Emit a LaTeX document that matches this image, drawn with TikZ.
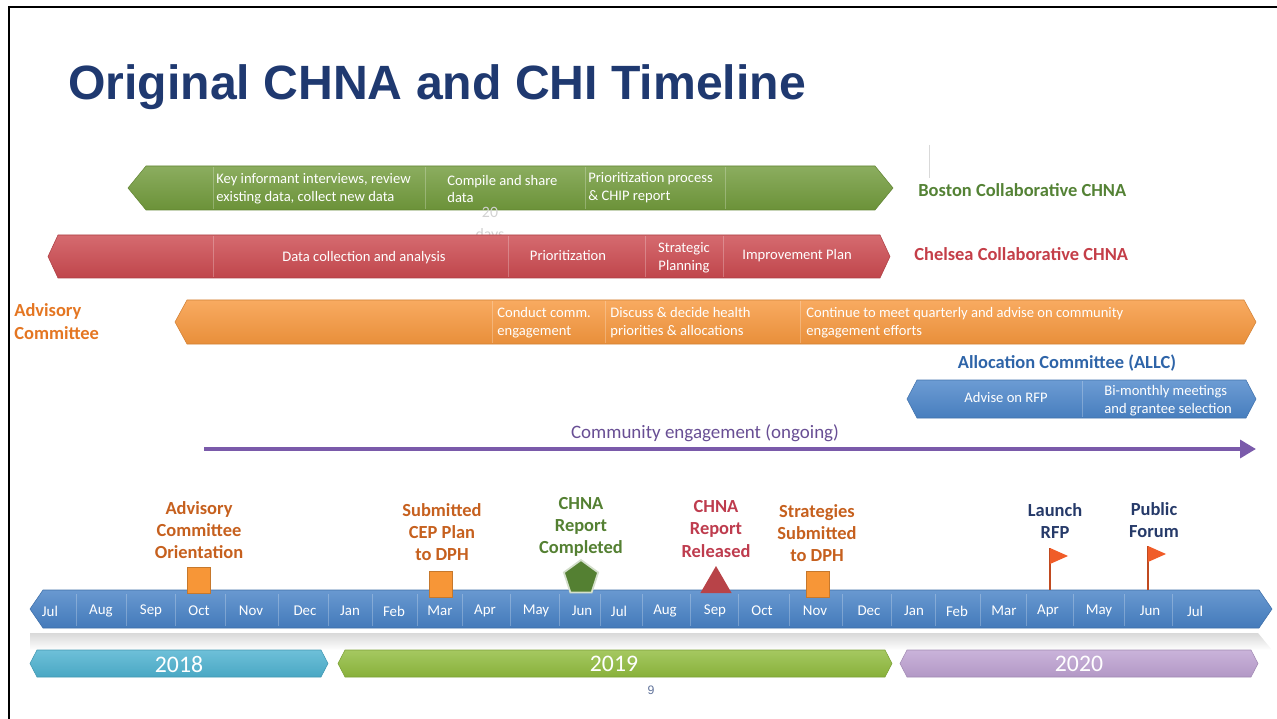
\documentclass[tikz,border=0pt]{standalone}
\usepackage{fontspec}
\setmainfont{Carlito}
\newfontfamily\titlefont{Liberation Sans}
\usetikzlibrary{shapes.geometric,arrows.meta}

\definecolor{titleblue}{RGB}{31,57,112}
\definecolor{bgreen}{RGB}{114,155,60}
\definecolor{bostontext}{RGB}{84,130,53}
\definecolor{cred}{RGB}{204,74,80}
\definecolor{chelseatext}{RGB}{196,62,72}
\definecolor{aorange}{RGB}{247,152,62}
\definecolor{advtext}{RGB}{228,118,34}
\definecolor{allcblue}{RGB}{76,134,202}
\definecolor{allctext}{RGB}{46,100,168}
\definecolor{purp}{RGB}{122,90,170}
\definecolor{purptext}{RGB}{104,78,148}
\definecolor{msorange}{RGB}{198,96,30}
\definecolor{sqorange}{RGB}{247,150,55}
\definecolor{msgreen}{RGB}{84,128,50}
\definecolor{msred}{RGB}{190,60,78}
\definecolor{msblue}{RGB}{38,58,105}
\definecolor{flagred}{RGB}{240,92,40}
\definecolor{tlblue}{RGB}{72,130,198}
\definecolor{y2018}{RGB}{78,178,208}
\definecolor{y2019}{RGB}{145,188,62}
\definecolor{y2020}{RGB}{190,162,210}

\tikzstyle{bartext} = [text=white, font=\fontsize{8.3}{10.2}\selectfont, align=left, anchor=west, inner sep=0pt]
\tikzstyle{barcenter} = [text=white, font=\fontsize{8.3}{10.2}\selectfont, align=center, inner sep=0pt]
\tikzstyle{barlabel} = [font=\bfseries\fontsize{10.5}{13}\selectfont, align=left, anchor=west, inner sep=0pt]
\tikzstyle{milestone} = [font=\bfseries\fontsize{10.5}{12.6}\selectfont, align=center, inner sep=0pt]
\tikzstyle{month} = [text=white, font=\fontsize{8.5}{10}\selectfont, inner sep=0pt]
\tikzstyle{year} = [text=white, font=\fontsize{13.5}{15}\selectfont, inner sep=0pt]
\tikzstyle{divider} = [draw=white, opacity=0.25, line width=0.5pt]
\tikzstyle{square} = [rectangle, minimum width=0.46cm, minimum height=0.52cm, inner sep=0pt, fill=sqorange, draw=sqorange!80!black, line width=0.3pt]
\tikzstyle{ongoing} = [draw=purp, line width=2.8pt, -{Triangle[length=9pt,width=10pt]}]
\tikzstyle{pole} = [draw=flagred!80!black, line width=0.8pt]

% hexagonal banner: x1, x2, ytop, ybottom, tip, colour
\newcommand{\banner}[6]{%
  \path[top color=#6!82!white, bottom color=#6!94!black, draw=#6!85!black, line width=0.3pt]
    (#1,{(#3+#4)/2}) -- (#1+#5,#3) -- (#2-#5,#3) -- (#2,{(#3+#4)/2})
    -- (#2-#5,#4) -- (#1+#5,#4) -- cycle;}

\begin{document}
\begin{tikzpicture}[x=0.02cm, y=-0.02cm]
        \useasboundingbox (0,0) rectangle (1277,719);
        \draw[line width=1.7pt] (9,719) -- (9,7) -- (1277,7);

        \node (title) [anchor=west, inner sep=0pt, text=titleblue, font=\titlefont\bfseries\fontsize{27.4}{30}\selectfont] at (68,87) {Original CHNA and CHI Timeline};

        % Boston
        \draw[gray!30, line width=0.4pt] (929,145) -- (929,178);
        \banner{128}{893}{166}{210}{18}{bgreen}
        \foreach \x in {213,425,585,725} \draw[divider] (\x,167) -- (\x,209);
        \node (keyinf) [bartext] at (216,189) {Key informant interviews, review\\existing data, collect new data};
        \node (compile) [bartext] at (447,189) {Compile and share\\data};
        \node (prioproc) [bartext] at (588,188) {Prioritization process\\\& CHIP report};
        \node (boston) [barlabel, text=bostontext] at (918,190) {Boston Collaborative CHNA};
        \node (days) [barcenter, text=gray!35, font=\fontsize{9}{12.5}\selectfont] at (490,225) {20\\days};

        % Chelsea
        \banner{48}{890}{235}{278}{10}{cred}
        \foreach \x in {213,508,645,723} \draw[divider] (\x,236) -- (\x,277);
        \node (datacoll) [barcenter] at (364,258) {Data collection and analysis};
        \node (prio) [barcenter] at (568,256) {Prioritization};
        \node (strat) [barcenter] at (684,258) {Strategic\\Planning};
        \node (improve) [barcenter] at (797,256) {Improvement Plan};
        \node (chelsea) [barlabel, text=chelseatext] at (914,254) {Chelsea Collaborative CHNA};

        % Advisory Committee
        \banner{175}{1256}{300}{344}{12}{aorange}
        \foreach \x in {492,605,800} \draw[divider] (\x,301) -- (\x,343);
        \node (conduct) [bartext] at (497,323) {Conduct comm.\\engagement};
        \node (discuss) [bartext] at (610,323) {Discuss \& decide health\\priorities \& allocations};
        \node (continue) [bartext] at (806,323) {Continue to meet quarterly and advise on community\\engagement efforts};
        \node (advisory) [barlabel, text=advtext] at (14,322) {Advisory\\Committee};

        % Allocation Committee
        \node (allc) [barlabel, anchor=center, text=allctext] at (1067,363) {Allocation Committee (ALLC)};
        \banner{907}{1256}{380}{418}{10}{allcblue}
        \draw[divider] (1082,381) -- (1082,417);
        \node (rfp) [barcenter] at (1006,397) {Advise on RFP};
        \node (bimonthly) [bartext] at (1104,401) {Bi-monthly meetings\\and grantee selection};

        % Community engagement
        \node (community) [font=\fontsize{10.8}{13}\selectfont, text=purptext, inner sep=0pt] at (705,433) {Community engagement (ongoing)};
        \coordinate (ceL) at (204,449);
        \coordinate (ceR) at (1256,449);
        \draw[ongoing] (ceL) -- (ceR);

        % timeline
        \banner{30}{1272}{590}{628}{13}{tlblue}
        \path[top color=gray!30, bottom color=white] (30,633) -- (1258,633) -- (1272,650) -- (30,650) -- cycle;
        \foreach \x in {76,126,175,225,278,328,372,417,462,510,559,600,642,690,738,789,842,891,935,980,1026,1073,1124,1172}
            \draw[divider] (\x,594) -- (\x,626);
        \foreach \m/\x [count=\i] in {Jul/50,Aug/101,Sep/151,Oct/199,Nov/251,Dec/305,Jan/350,Feb/394,Mar/440,Apr/485,May/536,Jun/582,Jul/619,Aug/665,Sep/715,Oct/762,Nov/815,Dec/869,Jan/914,Feb/957,Mar/1004,Apr/1048,May/1099,Jun/1150,Jul/1195}
            \node (mon\i) [month] at (\x,611) {\m};

        % years
        \banner{30}{328}{650}{677}{7}{y2018}
        \banner{338}{892}{650}{677}{7}{y2019}
        \banner{900}{1258}{650}{677}{7}{y2020}
        \node (yr2018) [year] at (179,664) {2018};
        \node (yr2019) [year] at (614,664) {2019};
        \node (yr2020) [year] at (1079,664) {2020};

        % milestones
        \node (orient) [milestone, text=msorange] at (199,530) {Advisory\\Committee\\Orientation};
        \node (orientmk) [square] at (199,580) {};
        \node (cep) [milestone, text=msorange] at (442,532) {Submitted\\CEP Plan\\to DPH};
        \node (cepmk) [square] at (441,584) {};
        \node (done) [milestone, text=msgreen] at (581,527) {CHNA\\Report\\Completed};
        \node (donemk) [regular polygon, regular polygon sides=5, minimum size=0.72cm, inner sep=0pt, fill=msgreen, draw=msgreen!25!white, line width=1pt] at (581,578) {};
        \node (released) [milestone, text=msred] at (716,529) {CHNA\\Report\\Released};
        \node (releasedmk) [regular polygon, regular polygon sides=3, minimum size=0.72cm, inner sep=0pt, fill=cred!90!black] at (716,584) {};
        \node (strategies) [milestone, text=msorange] at (817,533) {Strategies\\Submitted\\to DPH};
        \node (strategiesmk) [square] at (818,584) {};
        \node (launch) [milestone, text=msblue] at (1055,521) {Launch\\RFP};
        \draw[pole] (1050,590) -- (1050,548);
        \fill[flagred] (1050,548) -- (1068,556) -- (1050,564) -- cycle;
        \node (forum) [milestone, text=msblue] at (1154,520) {Public\\Forum};
        \draw[pole] (1148,590) -- (1148,546);
        \fill[flagred] (1148,546) -- (1166,554) -- (1148,562) -- cycle;

        \node (page) [font=\titlefont\fontsize{7}{8}\selectfont, text=titleblue!70!white, inner sep=0pt] at (651,690) {9};
    \end{tikzpicture}
\end{document}
